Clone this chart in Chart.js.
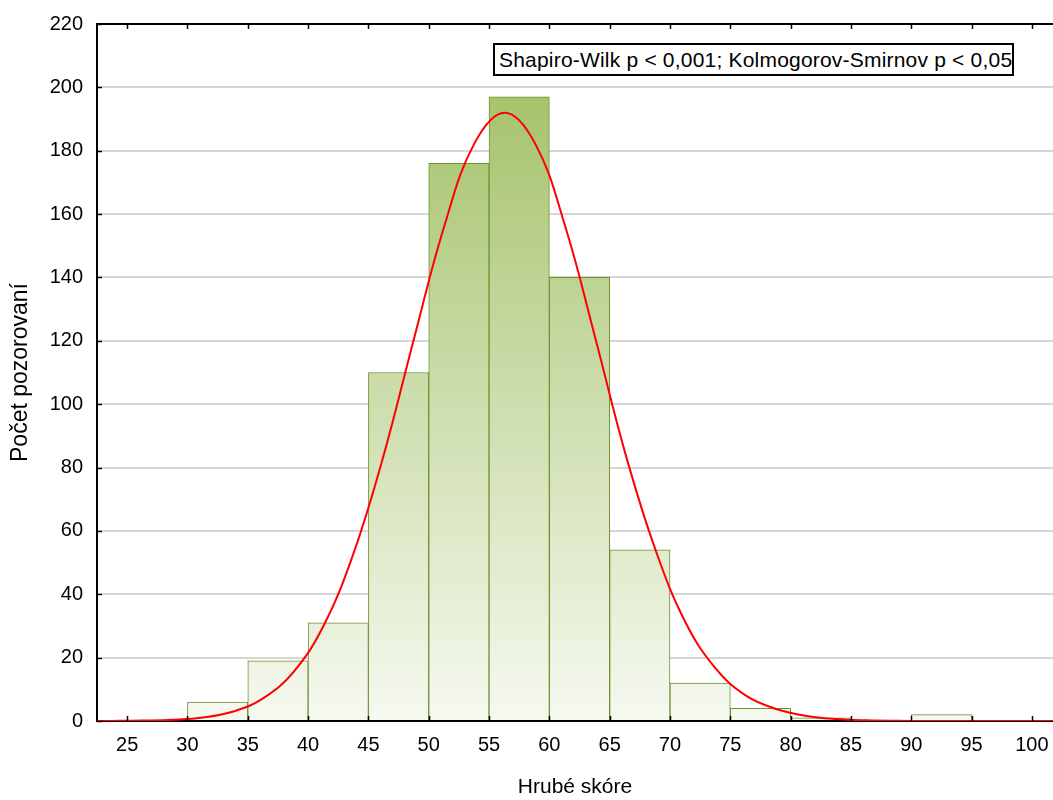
<!DOCTYPE html>
<html lang="cs">
<head>
    <meta charset="UTF-8">
    <title>Hrubé skóre – histogram</title>
    <script src="https://cdn.jsdelivr.net/npm/chart.js"></script>
    <style>
        html, body { margin: 0; padding: 0; background: #fff; }
        #wrap { position: relative; width: 1053px; height: 800px; }
        #testBox {
            position: absolute; left: 493px; top: 43px; width: 521px; height: 33px;
            box-sizing: border-box; border: 2px solid #000; background: #fff;
            font: 21px "Liberation Sans", Arial, sans-serif; line-height: 29px;
            letter-spacing: 0.2px; padding-left: 4px; white-space: nowrap; color: #000;
        }
    </style>
</head>
<body>
<div id="wrap">
    <canvas id="hist" width="1053" height="800"></canvas>
    <div id="testBox">Shapiro-Wilk p &lt; 0,001; Kolmogorov-Smirnov p &lt; 0,05</div>
</div>

<script>
    // histogram bins (lower edge) and counts
    const binLow = [30, 35, 40, 45, 50, 55, 60, 65, 70, 75, 80, 85, 90, 95];
    const counts = [6, 19, 31, 110, 176, 197, 140, 54, 12, 4, 1, 0, 2, 0];
    const binWidth = 5;

    // fitted normal curve
    const curveX = [21.3, 23.8, 26.3, 28.8, 31.3, 33.8, 36.3, 38.8, 41.3, 43.8, 46.3, 48.8, 51.3, 53.8,
                    56.3, 58.8, 61.3, 63.8, 66.3, 68.8, 71.3, 73.8, 76.3, 78.8, 81.3, 83.8, 86.3,
                    88.8, 91.3, 93.8, 96.3, 98.8, 101.3, 103.8];
    const curveY = [0, 0.03, 0.12, 0.38, 1.1, 3, 7.2, 15.5, 30.2, 53.3, 84.4, 121, 156.3, 182.4,
                    192, 182.4, 156.3, 121, 84.4, 54, 31, 16.5, 8, 3.8, 1.6, 0.6, 0.2,
                    0.05, 0, 0, 0, 0, 0, 0];

    const xTicks = [25, 30, 35, 40, 45, 50, 55, 60, 65, 70, 75, 80, 85, 90, 95, 100];
    const yTicks = [0, 20, 40, 60, 80, 100, 120, 140, 160, 180, 200, 220];

    Chart.defaults.font.family = '"Liberation Sans", Arial, sans-serif';
    Chart.defaults.color = '#000';

    // black frame: top border + inward tick marks
    const frame = {
        id: 'frame',
        afterDatasetsDraw(chart) {
            const c = chart.ctx, a = chart.chartArea;
            const xs = chart.scales.x, ys = chart.scales.y;
            c.save();
            c.strokeStyle = '#000';
            c.lineWidth = 2;
            c.beginPath();
            c.moveTo(a.left, a.top);
            c.lineTo(a.right, a.top);
            c.stroke();
            c.lineWidth = 1.5;
            c.beginPath();
            xTicks.forEach(v => {
                const px = Math.round(xs.getPixelForValue(v)) + 0.5;
                c.moveTo(px, a.bottom); c.lineTo(px, a.bottom - 5);
                c.moveTo(px, a.top); c.lineTo(px, a.top + 5);
            });
            yTicks.forEach(v => {
                const py = Math.round(ys.getPixelForValue(v)) + 0.5;
                c.moveTo(a.left, py); c.lineTo(a.left + 5, py);
            });
            c.stroke();
            c.restore();
        }
    };

    const barData = binLow.map((lo, i) => ({ x: lo + binWidth / 2, y: counts[i] || null }));
    const lineData = curveX.map((x, i) => ({ x: x, y: curveY[i] }));

    new Chart(document.getElementById('hist'), {
        type: 'bar',
        data: {
            datasets: [{
                type: 'line',
                data: lineData,
                borderColor: '#ff0000',
                borderWidth: 2,
                pointRadius: 0,
                tension: 0.4,
                order: 0
            }, {
                type: 'bar',
                data: barData,
                barPercentage: 1,
                categoryPercentage: 1,
                borderWidth: 1,
                borderColor: '#6f9230',
                backgroundColor(ctx) {
                    const a = ctx.chart.chartArea;
                    if (!a) return '#c8d9a0';
                    const g = ctx.chart.ctx.createLinearGradient(0, a.top, 0, a.bottom);
                    g.addColorStop(0, '#9dbd5e');
                    g.addColorStop(1, '#f6f9f0');
                    return g;
                },
                order: 1
            }]
        },
        options: {
            responsive: false,
            animation: false,
            layout: { padding: { top: 24, right: 0, bottom: 0, left: 0 } },
            plugins: { legend: { display: false }, tooltip: { enabled: false } },
            scales: {
                x: {
                    type: 'linear',
                    min: 22.5,
                    max: 101.75,
                    offset: false,
                    afterBuildTicks: s => { s.ticks = xTicks.map(v => ({ value: v })); },
                    afterFit: s => { s.height = 79; s.paddingLeft = 0; s.paddingRight = 0; },
                    grid: { display: false, offset: false, drawTicks: false },
                    border: { color: '#000', width: 2 },
                    ticks: { font: { size: 20 }, padding: 12, maxRotation: 0, autoSkip: false },
                    title: { display: true, text: 'Hrubé skóre', font: { size: 21 }, padding: { top: 0, bottom: 0 } }
                },
                y: {
                    min: 0,
                    max: 220,
                    afterBuildTicks: s => { s.ticks = yTicks.map(v => ({ value: v })); },
                    afterFit: s => { s.width = 97; s.paddingTop = 0; s.paddingBottom = 0; },
                    grid: {
                        color: ctx => (ctx.tick && (ctx.tick.value === 0 || ctx.tick.value === 220)) ? 'rgba(0,0,0,0)' : '#d6d6d6',
                        lineWidth: 2,
                        drawTicks: false
                    },
                    border: { color: '#000', width: 2 },
                    ticks: { font: { size: 20 }, padding: 14 },
                    title: { display: true, text: 'Počet pozorovaní', font: { size: 23 }, padding: { top: 7, bottom: 0 } }
                }
            }
        },
        plugins: [frame]
    });
</script>
</body>
</html>
